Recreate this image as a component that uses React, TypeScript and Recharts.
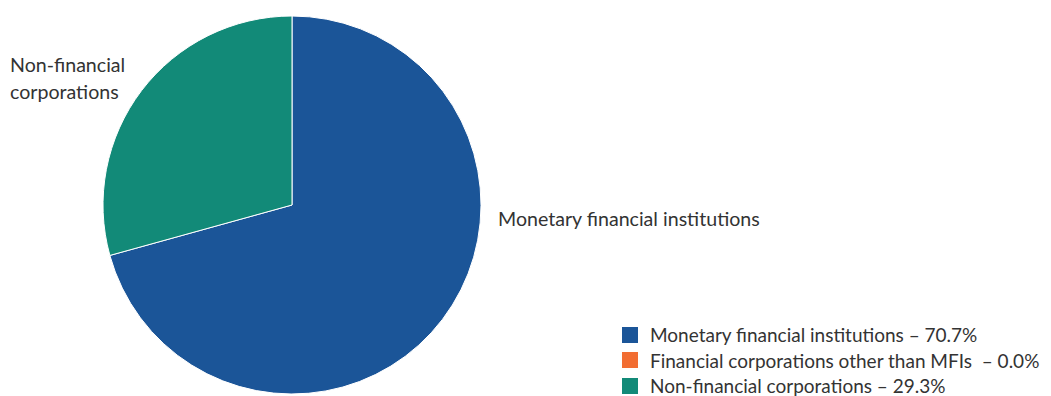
import { PieChart, Pie, Cell, Legend } from 'recharts';

const sectors = ['Monetary financial institutions', 'Financial corporations other than MFIs', 'Non-financial corporations'];
const shares = [70.7, 0.0, 29.3];
const colors = ['#1b5598', '#f26d32', '#128a78'];
const legendNames = ['Monetary financial institutions', 'Financial corporations other than MFIs ', 'Non-financial corporations'];

const data = sectors.map((name, i) => ({ name, value: shares[i] }));

const FONT = 'Lato, "Open Sans", sans-serif';

function renderLabel(props: any) {
  const { cx, cy, outerRadius, name, value } = props;
  if (!value) return null;
  if (name === 'Monetary financial institutions') {
    return (
      <text x={cx + outerRadius + 17} y={cy + 14} dy="0.35em" textAnchor="start" fill="#333" fontSize={19.6} fontFamily={FONT}>
        {name}
      </text>
    );
  }
  return (
    <text x={cx - outerRadius - 93} y={cy - 140} textAnchor="start" fill="#333" fontSize={19.6} fontFamily={FONT}>
      <tspan x={cx - outerRadius - 93} dy="0.35em">Non-financial</tspan>
      <tspan x={cx - outerRadius - 93} dy={27}>corporations</tspan>
    </text>
  );
}

function LegendContent() {
  return (
    <div style={{ fontFamily: FONT, fontSize: 19, color: '#333' }}>
      {sectors.map((s, i) => (
        <div key={s} style={{ display: 'flex', alignItems: 'center', height: 25.5, whiteSpace: 'pre' }}>
          <span style={{ width: 16, height: 16, background: colors[i], marginRight: 12, flexShrink: 0 }} />
          <span>{`${legendNames[i]} – ${shares[i].toFixed(1)}%`}</span>
        </div>
      ))}
    </div>
  );
}

export default function App() {
  return (
    <div style={{ position: 'absolute', left: 0, top: 0, width: 1051, height: 396, background: '#fff' }}>
      <PieChart width={1051} height={396} margin={{ top: 0, right: 0, bottom: 0, left: 0 }}>
        <Pie
          data={data}
          dataKey="value"
          nameKey="name"
          cx={292}
          cy={205}
          outerRadius={189}
          startAngle={90}
          endAngle={-270}
          stroke="#ffffff"
          strokeWidth={1}
          label={renderLabel}
          labelLine={false}
          isAnimationActive={false}
        >
          {data.map((d, i) => (
            <Cell key={d.name} fill={colors[i]} />
          ))}
        </Pie>
        <Legend content={<LegendContent />} wrapperStyle={{ left: 622, top: 322, width: 429, bottom: 'auto' }} />
      </PieChart>
    </div>
  );
}
